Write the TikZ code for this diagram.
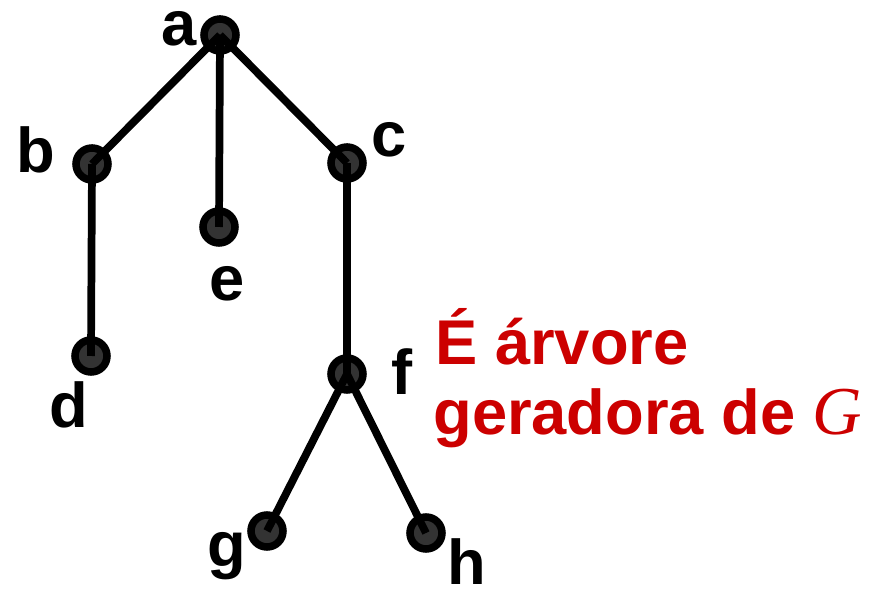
\documentclass[tikz,border=0pt]{standalone}
\usepackage{fontspec}
\setmainfont{Liberation Sans}
\newfontfamily\serifit{Liberation Serif}
\usetikzlibrary{positioning}
\definecolor{vermelho}{RGB}{204,0,0}
\tikzset{
  vert/.style={circle, draw=black, fill=black!80, line width=4.3pt, minimum size=0.64cm, inner sep=0pt},
  aresta/.style={line width=4.4pt},
  rot/.style={font=\bfseries\fontsize{36}{38}\selectfont, inner sep=0pt},
  frase/.style={font=\bfseries\fontsize{36}{40}\selectfont, text=vermelho, inner sep=0pt, anchor=base west}
}

\begin{document}
\begin{tikzpicture}[x=0.02cm, y=-0.02cm]
\useasboundingbox (0,0) rectangle (879,590);
% vertices
\node[vert] (a) at (220,35) {};
\node[vert] (b) at (92,164) {};
\node[vert] (c) at (347,163) {};
\node[vert] (e) at (219,227) {};
\node[vert] (d) at (91,356) {};
\node[vert] (f) at (347,374) {};
\node[vert] (g) at (267,531) {};
\node[vert] (h) at (426,533) {};
% arestas
\draw[aresta] (a.center) -- (b.center);
\draw[aresta] (a.center) -- (e.center);
\draw[aresta] (a.center) -- (c.center);
\draw[aresta] (b.center) -- (d.center);
\draw[aresta] (c.center) -- (f.center);
\draw[aresta] (f.center) -- (g.center);
\draw[aresta] (f.center) -- (h.center);
% rotulos
\node[rot] (la) at (179,29) {a};
\node[rot] (lb) at (36,150) {b};
\node[rot] (lc) at (389,140) {c};
\node[rot] (le) at (227,284) {e};
\node[rot] (ld) at (69,405) {d};
\node[rot] (lf) at (402,372) {f};
\node[rot] (lg) at (227,556) {g};
\node[rot] (lh) at (467,562) {h};
% texto
\node[frase] (t1) at (435,365) {É árvore};
\node[frase] (t2) at (433,435) {geradora de {\serifit\mdseries\itshape\fontsize{39}{40}\selectfont G}};
\end{tikzpicture}
\end{document}
